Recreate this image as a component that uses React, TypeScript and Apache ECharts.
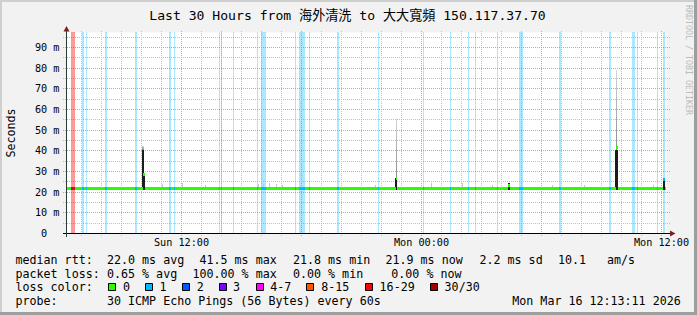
import React, { useEffect, useRef } from 'react';
import * as echarts from 'echarts';

const W = 697;
const H = 315;
const MONO = "'DejaVu Sans Mono', 'Noto Sans CJK TC', 'Noto Sans CJK SC', monospace";

// x axis: hours since Sun 00:00 ; y axis: milliseconds
const X_MIN = 6.25;
const X_MAX = 36.25;
const Y_MAX = 97.25;

const xLabelHours = [12, 24, 36];
const xLabelTexts = ['Sun 12:00', 'Mon 00:00', 'Mon 12:00'];
const majorHours = [12, 18, 24, 30, 36];
const minorHours = [7, 8, 9, 10, 11, 13, 14, 15, 16, 17, 19, 20, 21, 22, 23, 25, 26, 27, 28, 29, 31, 32, 33, 34, 35];
const yMajor = [10, 20, 30, 40, 50, 60, 70, 80, 90];
const yMinor = [5, 15, 25, 35, 45, 55, 65, 75, 85, 95];

// loss colour legend
const lossLabels = ['0', '1', '2', '3', '4-7', '8-15', '16-29', '30/30'];
const lossColors = ['#26ff00', '#00b8ff', '#0059ff', '#7e00ff', '#ff00ff', '#ff5500', '#ff0000', '#a00000'];

// loss bands (hours), level = index into lossColors
const lossStart = [6.475, 7.01, 7.225, 8.175, 9.675, 11.375, 11.625, 13.875, 13.96, 14.56, 15.775, 15.96, 16.04, 17.675, 17.875, 18.375, 19.775, 21.825, 24.06, 25.425, 26.325, 26.675, 27.775, 28.875, 30.86, 33.375, 34.525, 34.64, 34.76, 35.775, 36.06];
const lossEnd = [6.675, 7.1, 7.275, 8.265, 9.775, 11.49, 11.675, 13.935, 13.995, 14.61, 15.825, 15.99, 16.21, 17.725, 18.175, 18.425, 19.875, 21.89, 24.11, 25.475, 26.375, 26.725, 27.825, 29.05, 30.96, 33.475, 34.625, 34.69, 34.81, 35.825, 36.15];
const lossLevel = [6, 1, 1, 1, 1, 1, 1, 1, 1, 1, 1, 1, 1, 1, 1, 1, 1, 1, 1, 1, 1, 1, 1, 1, 1, 1, 1, 1, 1, 1, 1];

// median rtt (ms) as steps
const medianStart = [6.25, 10.09, 10.19, 22.7, 22.79, 28.33, 28.425, 33.72, 33.81, 36.06, 36.175];
const medianEnd = [10.09, 10.19, 22.7, 22.79, 28.33, 28.425, 33.72, 33.81, 36.06, 36.175, 36.22];
const medianValue = [22.0, 28.5, 22.0, 26.5, 22.0, 23.2, 22.0, 41.5, 22.0, 26.0, 22.0];

// dense smoke (dark)
const darkStart = [10.01, 10.125, 22.675, 28.325, 33.675, 36.06];
const darkEnd = [10.125, 10.19, 22.79, 28.425, 33.81, 36.175];
const darkTop = [40.3, 28.0, 26.8, 24.4, 40.5, 25.7];

// sparse smoke (light)
const lightStart = [10.02, 22.72, 33.72];
const lightEnd = [10.1, 22.79, 33.77];
const lightLow = [40.3, 26.8, 40.5];
const lightTop = [42.3, 55.4, 79.1];

// small specks of smoke
const speckTime = [11.01, 12.01, 13.175, 15.84, 16.075, 16.39, 16.725, 17.01, 21.66, 24.46, 26.01, 27.51, 30.54, 32.14, 35.59];
const speckTop = [24.0, 24.4, 23.5, 24.0, 24.0, 24.5, 24.0, 23.5, 23.5, 24.5, 24.5, 23.5, 23.5, 23.5, 23.5];

const title = 'Last 30 Hours from 海外清洗 to 大大寬頻 150.117.37.70';
const rttStats = ['22.0 ms avg', '41.5 ms max', '21.8 ms min', '21.9 ms now', '2.2 ms sd', '10.1', 'am/s'];
const lossStats = ['0.65 % avg', '100.00 % max', '0.00 % min', '0.00 % now'];
const probeText = '30 ICMP Echo Pings (56 Bytes) every 60s';
const dateText = 'Mon Mar 16 12:13:11 2026';

function rgba(hex: string, a: number) {
  const r = parseInt(hex.slice(1, 3), 16);
  const g = parseInt(hex.slice(3, 5), 16);
  const b = parseInt(hex.slice(5, 7), 16);
  return `rgba(${r},${g},${b},${a})`;
}

function medianAt(h: number) {
  for (let i = 0; i < medianStart.length; i++) {
    if (h >= medianStart[i] && h < medianEnd[i]) return medianValue[i];
  }
  return medianValue[medianValue.length - 1];
}

function buildOption() {
  const gridData: number[][] = [
    ...minorHours.map((h) => [h, 0, 0]),
    ...majorHours.map((h) => [h, 0, 1]),
    ...yMinor.map((v) => [v, 1, 0]),
    ...yMajor.map((v) => [v, 1, 1]),
  ];

  const txt = (x: number, y: number, text: string, extra: any = {}) => ({
    type: 'text',
    x,
    y,
    silent: true,
    style: {
      text,
      fill: '#000',
      fontFamily: MONO,
      fontSize: 11.66,
      align: 'left',
      verticalAlign: 'middle',
      ...extra,
    },
  });

  const L1 = 259.5;
  const L2 = 273.5;
  const L3 = 287.3;
  const L4 = 300.8;
  const rttX = [107, 199.5, 293, 385.5, 479.5, 558, 607];
  const lossX = [107, 192.5, 293, 391.3];
  const boxX = [108.5, 145.5, 182.5, 219.5, 256.5, 306.5, 365.5, 430.5];
  const boxTextX = [123, 159.5, 196.8, 233, 270.3, 321.3, 379.6, 444.6];

  const graphics: any[] = [
    // frame shading
    { type: 'rect', silent: true, shape: { x: 0, y: 0, width: W, height: 2 }, style: { fill: '#cfcfcf' } },
    { type: 'rect', silent: true, shape: { x: 0, y: 0, width: 2, height: H }, style: { fill: '#cfcfcf' } },
    { type: 'rect', silent: true, shape: { x: 0, y: H - 3, width: W, height: 3 }, style: { fill: '#9e9e9e' } },
    { type: 'rect', silent: true, shape: { x: W - 3, y: 0, width: 3, height: H }, style: { fill: '#9e9e9e' } },
    // axes
    { type: 'line', silent: true, z: 100, shape: { x1: 63, y1: 233.5, x2: 671, y2: 233.5 }, style: { stroke: '#000', lineWidth: 1 } },
    { type: 'line', silent: true, z: 100, shape: { x1: 66.5, y1: 29, x2: 66.5, y2: 237 }, style: { stroke: '#2c3c38', lineWidth: 1 } },
    { type: 'polygon', silent: true, z: 100, shape: { points: [[63.5, 31.5], [69.5, 31.5], [66.5, 26]] }, style: { fill: '#7f1f1f' } },
    { type: 'polygon', silent: true, z: 100, shape: { points: [[670, 230.5], [670, 236.5], [675.5, 233.5]] }, style: { fill: '#7f1f1f' } },
    // title & unit & watermark
    txt(347.5, 15, title, { align: 'center', fontSize: 13.1 }),
    { type: 'text', silent: true, x: 11, y: 133, rotation: Math.PI / 2, style: { text: 'Seconds', fill: '#000', fontFamily: MONO, fontSize: 11.66, align: 'center', verticalAlign: 'middle' } },
    { type: 'text', silent: true, x: 688.5, y: 60, rotation: -Math.PI / 2, style: { text: 'RRDTOOL / TOBI OETIKER', fill: '#bcbcbc', fontFamily: MONO, fontSize: 8.3, align: 'center', verticalAlign: 'middle' } },
    // legend
    txt(15.5, L1, 'median rtt:'),
    ...rttStats.map((s, i) => txt(rttX[i], L1, s)),
    txt(15.5, L2, 'packet loss:'),
    ...lossStats.map((s, i) => txt(lossX[i], L2, s)),
    txt(15.5, L3, 'loss color:'),
    ...lossColors.map((c, i) => ({ type: 'rect', silent: true, shape: { x: boxX[i], y: 283.5, width: 7, height: 7 }, style: { fill: c, stroke: '#000', lineWidth: 1 } })),
    ...lossLabels.map((s, i) => txt(boxTextX[i], L3, s)),
    txt(15.5, L4, 'probe:'),
    txt(107, L4, probeText),
    txt(512.3, L4, dateText),
  ];

  return {
    animation: false,
    backgroundColor: '#f2f2f2',
    textStyle: { fontFamily: MONO },
    grid: { left: 66.5, top: 32.5, width: 600, height: 201, show: true, backgroundColor: '#ffffff', borderWidth: 0 },
    xAxis: {
      type: 'value',
      min: X_MIN,
      max: X_MAX,
      axisLine: { show: false },
      axisTick: { show: false },
      splitLine: { show: false },
      axisLabel: {
        customValues: xLabelHours,
        formatter: (v: number) => {
          const i = xLabelHours.findIndex((h) => Math.abs(h - v) < 1e-6);
          return i >= 0 ? xLabelTexts[i] : '';
        },
        fontFamily: MONO,
        fontSize: 10.2,
        color: '#000',
        margin: 4,
      },
    },
    yAxis: {
      type: 'value',
      min: 0,
      max: Y_MAX,
      interval: 10,
      axisLine: { show: false },
      axisTick: { show: false },
      splitLine: { show: false },
      axisLabel: {
        formatter: (v: number) => (v === 0 ? '0\u00a0\u00a0' : `${v} m`),
        showMaxLabel: false,
        fontFamily: MONO,
        fontSize: 10.2,
        color: '#000',
        margin: 7,
      },
    },
    graphic: graphics,
    series: [
      {
        type: 'custom',
        name: 'grid',
        silent: true,
        z: 1,
        data: gridData,
        renderItem: (params: any, api: any) => {
          const cs = params.coordSys;
          const v = api.value(0);
          const orient = api.value(1);
          const major = api.value(2);
          const stroke = major ? '#e99696' : '#c0c0c0';
          if (orient === 0) {
            const x = Math.floor(api.coord([v, 0])[0]) + 0.5;
            return {
              type: 'line',
              shape: { x1: x, y1: Math.floor(cs.y) - 1, x2: x, y2: Math.ceil(cs.y + cs.height) + 3 },
              style: { stroke, lineWidth: 1, lineDash: [1, 1] },
            };
          }
          const y = Math.floor(api.coord([X_MIN, v])[1]) + 0.5;
          return {
            type: 'line',
            shape: { x1: Math.floor(cs.x) - 3, y1: y, x2: Math.ceil(cs.x + cs.width) + 3, y2: y },
            style: { stroke, lineWidth: 1, lineDash: [1, 1] },
          };
        },
      },
      {
        type: 'custom',
        name: 'loss',
        silent: true,
        z: 2,
        data: lossStart.map((s, i) => [s, lossEnd[i], lossLevel[i]]),
        renderItem: (params: any, api: any) => {
          const cs = params.coordSys;
          const x0 = Math.round(api.coord([api.value(0), 0])[0]);
          const x1 = Math.max(x0 + 1, Math.round(api.coord([api.value(1), 0])[0]));
          const lvl = api.value(2);
          return {
            type: 'rect',
            shape: { x: x0, y: Math.floor(cs.y), width: x1 - x0, height: Math.round(cs.height) },
            style: { fill: rgba(lossColors[lvl], lvl === 1 ? 0.33 : 0.4) },
          };
        },
      },
      {
        type: 'custom',
        name: 'specks',
        silent: true,
        z: 3,
        data: speckTime.map((t, i) => [t, speckTop[i]]),
        renderItem: (params: any, api: any) => {
          const p0 = api.coord([api.value(0), api.value(1)]);
          const p1 = api.coord([api.value(0), 22]);
          const x = Math.round(p0[0]);
          const yTop = Math.round(p0[1]);
          return { type: 'rect', shape: { x, y: yTop, width: 1, height: Math.max(1, Math.round(p1[1]) - yTop) }, style: { fill: '#c6c6c6' } };
        },
      },
      {
        type: 'custom',
        name: 'smoke light',
        silent: true,
        z: 3,
        data: lightStart.map((s, i) => [s, lightEnd[i], lightLow[i], lightTop[i]]),
        renderItem: (params: any, api: any) => {
          const x0 = Math.round(api.coord([api.value(0), 0])[0]);
          const x1 = Math.max(x0 + 1, Math.round(api.coord([api.value(1), 0])[0]));
          const yLow = Math.round(api.coord([0, api.value(2)])[1]);
          const yTop = Math.round(api.coord([0, api.value(3)])[1]);
          return {
            type: 'rect',
            shape: { x: x0, y: yTop, width: x1 - x0, height: yLow - yTop },
            style: {
              fill: new echarts.graphic.LinearGradient(0, 0, 0, 1, [
                { offset: 0, color: '#d4d4d4' },
                { offset: 1, color: '#8c8c8c' },
              ]),
            },
          };
        },
      },
      {
        type: 'custom',
        name: 'smoke dark',
        silent: true,
        z: 4,
        data: darkStart.map((s, i) => [s, darkEnd[i], darkTop[i]]),
        renderItem: (params: any, api: any) => {
          const x0 = Math.round(api.coord([api.value(0), 0])[0]);
          const x1 = Math.max(x0 + 1, Math.round(api.coord([api.value(1), 0])[0]));
          const yTop = Math.round(api.coord([0, api.value(2)])[1]);
          const yBot = Math.round(api.coord([0, 21])[1]);
          return { type: 'rect', shape: { x: x0, y: yTop, width: x1 - x0, height: yBot - yTop }, style: { fill: '#1c1c1c' } };
        },
      },
      {
        type: 'custom',
        name: 'median',
        silent: true,
        z: 5,
        data: medianStart.map((s, i) => [s, medianEnd[i], medianValue[i]]),
        renderItem: (params: any, api: any) => {
          const x0 = Math.round(api.coord([api.value(0), 0])[0]);
          const x1 = Math.max(x0 + 1, Math.round(api.coord([api.value(1), 0])[0]));
          const yc = api.coord([0, api.value(2)])[1];
          return { type: 'rect', shape: { x: x0, y: Math.round(yc - 1.5), width: x1 - x0, height: 3 }, style: { fill: lossColors[0] } };
        },
      },
      {
        type: 'custom',
        name: 'median loss',
        silent: true,
        z: 6,
        data: lossStart.map((s, i) => [s, lossEnd[i], lossLevel[i], medianAt((s + lossEnd[i]) / 2)]),
        renderItem: (params: any, api: any) => {
          const x0 = Math.round(api.coord([api.value(0), 0])[0]);
          const x1 = Math.max(x0 + 1, Math.round(api.coord([api.value(1), 0])[0]));
          const yc = api.coord([0, api.value(3)])[1];
          const lvl = api.value(2);
          return {
            type: 'rect',
            shape: { x: x0, y: Math.round(yc - 1.5), width: x1 - x0, height: 3 },
            style: { fill: lvl === 1 ? lossColors[1] : '#c81414' },
          };
        },
      },
    ],
  };
}

export default function App() {
  const ref = useRef<HTMLDivElement>(null);
  useEffect(() => {
    if (!ref.current) return;
    const chart = echarts.init(ref.current, null, { renderer: 'svg', width: W, height: H });
    chart.setOption(buildOption() as any);
    return () => {
      chart.dispose();
    };
  }, []);
  return <div ref={ref} style={{ position: 'fixed', left: 0, top: 0, width: W, height: H }} />;
}
